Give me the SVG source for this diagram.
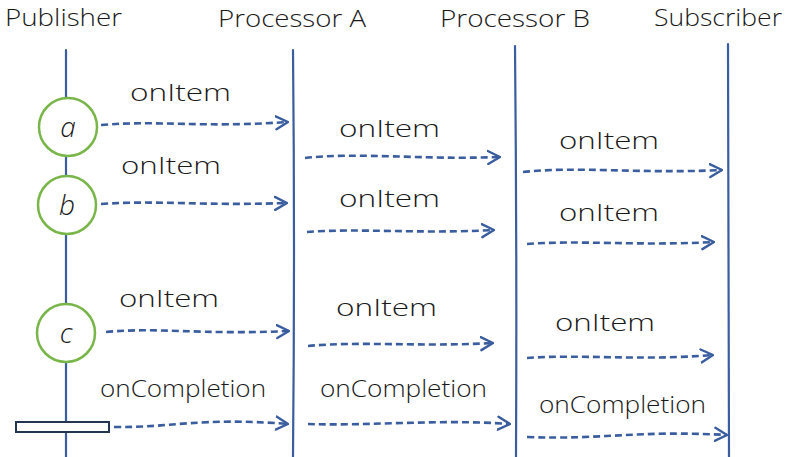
<svg xmlns="http://www.w3.org/2000/svg" width="787" height="457" viewBox="0 0 787 457">
<style>
.life{fill:none;stroke:#3a5d9f;stroke-width:2.2;stroke-linecap:round}
.msg{fill:none;stroke:#3a5d9f;stroke-width:2.6;stroke-dasharray:7 4;marker-end:url(#arr)}
.hd{font-family:"Open Sans","Liberation Sans",Arial,sans-serif;font-weight:350;font-size:24px;fill:#1a1a1a}
.lbl{font-family:"Open Sans","Liberation Sans",Arial,sans-serif;font-weight:350;font-size:24px;fill:#1a1a1a}
.ev{fill:#fff;stroke:#79b64a;stroke-width:2.5}
.evt{font-family:"Open Sans","Liberation Sans",Arial,sans-serif;font-weight:350;font-size:28px;font-style:italic;fill:#1a1a1a;text-anchor:middle}
</style>
<defs>
<marker id="arr" viewBox="0 0 14 16" refX="13" refY="8" markerWidth="14" markerHeight="16" markerUnits="userSpaceOnUse" orient="auto">
<path d="M1,1.5 L13,8 L1,14.5" fill="none" stroke="#3a5d9f" stroke-width="2.4" stroke-linecap="round" stroke-linejoin="round"/>
</marker>
</defs>
<g id="lifelines">
<path class="life" d="M66,50 L66,457"/>
<path class="life" d="M293,50 Q295,250 293,457"/>
<path class="life" d="M515,46 Q517,250 516,457"/>
<path class="life" d="M728,44 Q729,250 729,457"/>
</g>
<g id="headers">
<text class="hd" x="5" y="26" textLength="117" lengthAdjust="spacingAndGlyphs">Publisher</text>
<text class="hd" x="218" y="27" textLength="148" lengthAdjust="spacingAndGlyphs">Processor A</text>
<text class="hd" x="440" y="27" textLength="150" lengthAdjust="spacingAndGlyphs">Processor B</text>
<text class="hd" x="654" y="26" textLength="128" lengthAdjust="spacingAndGlyphs">Subscriber</text>
</g>
<g id="event-a"><circle class="ev" cx="68" cy="127" r="29"/><text class="evt" x="68" y="137">a</text></g>
<g id="event-b"><circle class="ev" cx="67" cy="205" r="29"/><text class="evt" x="67" y="215">b</text></g>
<g id="event-c"><circle class="ev" cx="66" cy="333" r="29"/><text class="evt" x="66" y="343">c</text></g>
<g id="completion"><rect x="16" y="422" width="93" height="10" fill="#fff" stroke="#24364f" stroke-width="2"/></g>
<g id="connectors">
<path class="msg" d="M101,125 C160,120 200,128 288,122"/>
<path class="msg" d="M305,158 C360,152 420,160 500,157"/>
<path class="msg" d="M523,172 C580,166 640,174 722,170"/>
<path class="msg" d="M101,204 C160,200 200,206 287,203"/>
<path class="msg" d="M307,232 C360,228 420,234 494,230"/>
<path class="msg" d="M527,244 C580,240 640,246 714,242"/>
<path class="msg" d="M106,332 C160,327 200,335 289,331"/>
<path class="msg" d="M308,346 C360,341 420,347 493,343"/>
<path class="msg" d="M527,358 C580,354 640,361 713,355"/>
<path class="msg" d="M114,427 C170,428 200,417 288,424"/>
<path class="msg" d="M308,424 C370,426 440,419 510,424"/>
<path class="msg" d="M527,437 C600,440 640,430 727,435"/>
</g>
<g id="labels">
<text class="lbl" x="130" y="101" textLength="101" lengthAdjust="spacingAndGlyphs">onItem</text>
<text class="lbl" x="339" y="137" textLength="101" lengthAdjust="spacingAndGlyphs">onItem</text>
<text class="lbl" x="559" y="149" textLength="100" lengthAdjust="spacingAndGlyphs">onItem</text>
<text class="lbl" x="121" y="174" textLength="100" lengthAdjust="spacingAndGlyphs">onItem</text>
<text class="lbl" x="339" y="207" textLength="101" lengthAdjust="spacingAndGlyphs">onItem</text>
<text class="lbl" x="559" y="221" textLength="100" lengthAdjust="spacingAndGlyphs">onItem</text>
<text class="lbl" x="119" y="307" textLength="100" lengthAdjust="spacingAndGlyphs">onItem</text>
<text class="lbl" x="336" y="316" textLength="101" lengthAdjust="spacingAndGlyphs">onItem</text>
<text class="lbl" x="555" y="331" textLength="100" lengthAdjust="spacingAndGlyphs">onItem</text>
<text class="lbl" x="100" y="397" textLength="166" lengthAdjust="spacingAndGlyphs">onCompletion</text>
<text class="lbl" x="320" y="397" textLength="167" lengthAdjust="spacingAndGlyphs">onCompletion</text>
<text class="lbl" x="539" y="413" textLength="167" lengthAdjust="spacingAndGlyphs">onCompletion</text>
</g>
</svg>
